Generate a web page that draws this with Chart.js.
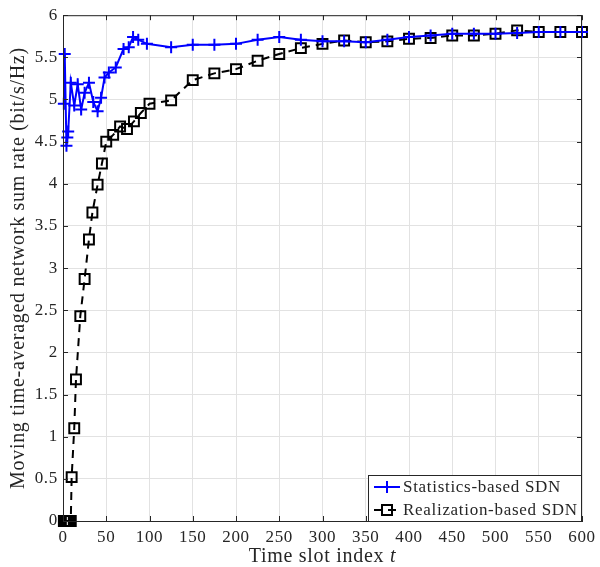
<!DOCTYPE html>
<html>
<head>
<meta charset="utf-8">
<script src="https://cdn.jsdelivr.net/npm/chart.js@4/dist/chart.umd.min.js"></script>
<style>
html, body { margin: 0; padding: 0; background: #fff; }
</style>
</head>
<body>
<canvas id="canvas" width="600" height="567"></canvas>
<script>
// time slots and moving averaged sum rate for each scheme
const statSlots = [1, 2, 4, 5, 6, 9, 13, 17, 21, 25, 30, 35, 40, 44, 48, 53, 61, 70, 76, 81, 87, 97,
    125, 150, 175, 200, 225, 250, 275, 300, 325, 350, 375, 400, 425, 450, 475, 500, 525, 550, 575, 600]
const statRate = [4.95, 5.54, 4.45, 4.55, 4.62, 5.2, 4.93, 5.18, 4.88, 5.08, 5.2, 4.97, 4.86, 5.02, 5.26, 5.32, 5.38, 5.6, 5.62, 5.74, 5.71, 5.66,
    5.62, 5.65, 5.65, 5.66, 5.71, 5.74, 5.71, 5.69, 5.69, 5.68, 5.71, 5.74, 5.76, 5.78, 5.78, 5.78, 5.79, 5.8, 5.8, 5.8]

const realSlots = [1, 2, 3, 4, 5, 6, 7, 8, 9, 10, 13, 15, 20, 25, 30, 34, 40, 45, 50, 58, 66, 74, 82, 90, 100,
    125, 150, 175, 200, 225, 250, 275, 300, 325, 350, 375, 400, 425, 450, 475, 500, 525, 550, 575, 600]
const realRate = [0, 0, 0, 0, 0, 0, 0, 0, 0, 0.52, 1.1, 1.68, 2.43, 2.87, 3.34, 3.66, 3.99, 4.24, 4.5, 4.58, 4.68, 4.65, 4.74, 4.84, 4.95,
    4.99, 5.23, 5.31, 5.36, 5.46, 5.54, 5.61, 5.66, 5.7, 5.68, 5.69, 5.72, 5.73, 5.76, 5.76, 5.78, 5.82, 5.8, 5.8, 5.8]

const seriesNames = ['Statistics-based SDN', 'Realization-based SDN']
const xTitle = 'Time slot index '
const xTitleVar = 't'
const yTitle = 'Moving time-averaged network sum rate (bit/s/Hz)'

const FONT = 'Liberation Serif'
const AXIS = '#262626'
const SPACING = '0.7px'

const toPoints = (xs, ys) => xs.map((x, i) => ({ x: x, y: ys[i] }))

// serif text here is spaced a little wider than the default
const textSpacing = {
    id: 'textSpacing',
    beforeUpdate: (chart) => { chart.ctx.letterSpacing = SPACING },
    beforeDraw: (chart) => { chart.ctx.letterSpacing = SPACING }
}

// box, inward ticks, x title and legend, drawn on top the way matlab does it
const figureExtras = {
    id: 'figureExtras',
    afterDraw: (chart) => {
        const { ctx, chartArea, scales } = chart
        const { left, right, top, bottom } = chartArea
        ctx.save()
        ctx.letterSpacing = SPACING
        ctx.strokeStyle = AXIS
        ctx.lineWidth = 1
        ctx.strokeRect(left + 0.5, top + 0.5, right - left - 1, bottom - top)

        ctx.beginPath()
        scales.x.ticks.forEach(t => {
            const px = Math.round(scales.x.getPixelForValue(t.value)) + 0.5
            ctx.moveTo(px, bottom); ctx.lineTo(px, bottom - 5)
            ctx.moveTo(px, top); ctx.lineTo(px, top + 5)
        })
        scales.y.ticks.forEach(t => {
            const py = Math.round(scales.y.getPixelForValue(t.value)) + 0.5
            ctx.moveTo(left, py); ctx.lineTo(left + 5, py)
            ctx.moveTo(right, py); ctx.lineTo(right - 5, py)
        })
        ctx.stroke()

        // x axis title with italic variable
        ctx.fillStyle = AXIS
        ctx.textBaseline = 'middle'
        ctx.font = '20px "' + FONT + '"'
        const w1 = ctx.measureText(xTitle).width
        ctx.font = 'italic 20px "' + FONT + '"'
        const w2 = ctx.measureText(xTitleVar).width
        const cx = (left + right) / 2
        let tx = cx - (w1 + w2) / 2
        ctx.font = '20px "' + FONT + '"'
        ctx.textAlign = 'left'
        ctx.fillText(xTitle, tx, 557)
        ctx.font = 'italic 20px "' + FONT + '"'
        ctx.fillText(xTitleVar, tx + w1, 557)

        // legend
        const lw = 214, lh = 46
        const lx = right - lw, ly = bottom - lh
        ctx.fillStyle = '#fff'
        ctx.fillRect(lx, ly, lw, lh)
        ctx.strokeStyle = AXIS
        ctx.strokeRect(lx + 0.5, ly + 0.5, lw - 1, lh)

        const rows = [ly + 12, ly + 35]
        chart.data.datasets.forEach((ds, i) => {
            const y = rows[i]
            ctx.strokeStyle = ds.borderColor
            ctx.lineWidth = 2
            ctx.setLineDash(ds.borderDash || [])
            ctx.beginPath()
            ctx.moveTo(lx + 6, y); ctx.lineTo(lx + 32, y)
            ctx.stroke()
            ctx.setLineDash([])
            ctx.beginPath()
            if (ds.pointStyle === 'cross') {
                ctx.moveTo(lx + 19 - 6, y); ctx.lineTo(lx + 19 + 6, y)
                ctx.moveTo(lx + 19, y - 6); ctx.lineTo(lx + 19, y + 6)
            } else {
                ctx.rect(lx + 19 - 5, y - 5, 10, 10)
            }
            ctx.stroke()
            ctx.fillStyle = AXIS
            ctx.font = '17px "' + FONT + '"'
            ctx.textAlign = 'left'
            ctx.textBaseline = 'middle'
            ctx.fillText(ds.label, lx + 35, y + 1)
        })
        ctx.restore()
    }
}

new Chart(document.getElementById('canvas'), {
    type: 'line',
    data: {
        datasets: [
            {
                label: seriesNames[0],
                data: toPoints(statSlots, statRate),
                borderColor: '#0000ff',
                backgroundColor: '#0000ff',
                borderWidth: 2,
                pointStyle: 'cross',
                pointRadius: 6,
                pointBorderWidth: 2,
                tension: 0,
                clip: false
            },
            {
                label: seriesNames[1],
                data: toPoints(realSlots, realRate),
                borderColor: '#000000',
                backgroundColor: 'rgba(0,0,0,0)',
                borderWidth: 2,
                borderDash: [8, 6],
                pointStyle: 'rect',
                pointRadius: 7,
                pointBorderWidth: 2,
                tension: 0,
                clip: false
            }
        ]
    },
    options: {
        responsive: false,
        animation: false,
        devicePixelRatio: 1,
        layout: { padding: { top: 14, right: 18, left: 0, bottom: 0 } },
        plugins: {
            legend: { display: false },
            tooltip: { enabled: false }
        },
        scales: {
            x: {
                type: 'linear',
                min: 0,
                max: 600,
                afterFit: (scale) => {
                    scale.height = 46
                    scale.paddingLeft = 0
                    scale.paddingRight = 0
                },
                ticks: {
                    stepSize: 50,
                    color: AXIS,
                    padding: 6,
                    maxRotation: 0,
                    font: { family: FONT, size: 17 },
                    callback: (v) => String(v)
                },
                grid: { color: '#e2e2e2', drawTicks: false },
                border: { display: true, color: AXIS }
            },
            y: {
                min: 0,
                max: 6,
                afterFit: (scale) => { scale.width = 63 },
                ticks: {
                    stepSize: 0.5,
                    color: AXIS,
                    padding: 5,
                    font: { family: FONT, size: 17 },
                    callback: (v) => String(v)
                },
                grid: { color: '#e2e2e2', drawTicks: false },
                border: { display: true, color: AXIS },
                title: {
                    display: true,
                    text: yTitle,
                    color: AXIS,
                    padding: { top: 7, bottom: 0 },
                    font: { family: FONT, size: 20 }
                }
            }
        }
    },
    plugins: [textSpacing, figureExtras]
})
</script>
</body>
</html>
